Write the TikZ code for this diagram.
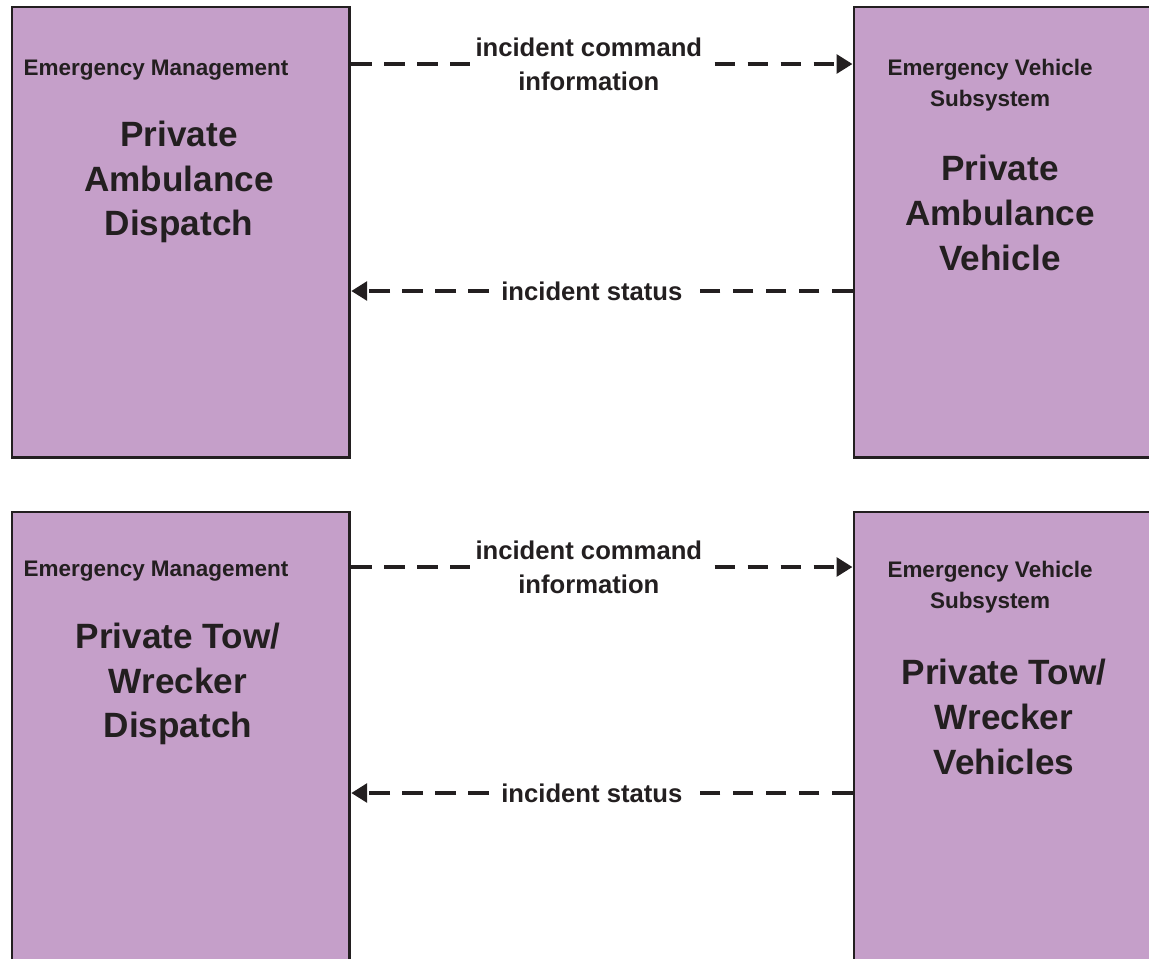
\documentclass[tikz,border=0pt]{standalone}
\usepackage{fontspec}
\setmainfont{Liberation Sans}
\usetikzlibrary{arrows.meta, positioning, calc}
\definecolor{boxfill}{RGB}{197,159,201}
\definecolor{boxline}{RGB}{35,31,32}

\begin{document}
\begin{tikzpicture}[
    x=0.02cm, y=-0.02cm,
    box/.style={rectangle, draw=boxline, line width=1.6pt, fill=boxfill, minimum width=6.76cm, minimum height=9.02cm, anchor=north west, inner sep=0pt},
    farbox/.style={box, minimum width=7cm},
    lowbox/.style={minimum height=9.5cm},
    kind/.style={font=\fontsize{12.8}{18}\selectfont\bfseries, align=center, text=boxline},
    title/.style={font=\fontsize{20}{25.5}\selectfont\bfseries, align=center, text=boxline},
    flowlabel/.style={font=\fontsize{14.6}{19.3}\selectfont\bfseries, align=center, fill=white, inner sep=3pt, text=boxline},
    flow/.style={draw=boxline, line width=2.8pt, dash pattern=on 11.8pt off 7pt, -{Triangle[length=9pt, width=10.5pt]}}
]
    \useasboundingbox (0,0) rectangle (1149,958);
    \clip (0,0) rectangle (1149,958);

    % upper pair
    \node[box] (ambdisp) at (10.5,5.5) {};
    \node[farbox] (ambveh) at (852.5,5.5) {};
    \node[kind] (ambdispkind) at (156,70) {Emergency Management};
    \node[title] (ambdisptitle) at (179,182) {Private\\Ambulance\\Dispatch};
    \node[kind] (ambvehkind) at (990,85) {Emergency Vehicle\\Subsystem};
    \node[title] (ambvehtitle) at (1000,213) {Private\\Ambulance\\Vehicle};

    \coordinate (ambcmd) at (588,64);
    \coordinate (ambstat) at (591,291);
    \draw[flow] (ambdisp.east |- ambcmd) -- (ambveh.west |- ambcmd)
        node[flowlabel, pos=0.474] (ambcmdlabel) {incident command\\information};
    \draw[flow] (ambveh.west |- ambstat) -- (ambdisp.east |- ambstat)
        node[flowlabel, pos=0.52] (ambstatlabel) {incident status};

    % lower pair
    \node[box, lowbox] (towdisp) at (10.5,510.5) {};
    \node[farbox, lowbox] (towveh) at (852.5,510.5) {};
    \node[kind] (towdispkind) at (156,571) {Emergency Management};
    \node[title] (towdisptitle) at (178,684) {Private Tow/\\Wrecker\\Dispatch};
    \node[kind] (towvehkind) at (990,587) {Emergency Vehicle\\Subsystem};
    \node[title] (towvehtitle) at (1004,717) {Private Tow/\\Wrecker\\Vehicles};

    \coordinate (towcmd) at (588,567);
    \coordinate (towstat) at (591,793);
    \draw[flow] (towdisp.east |- towcmd) -- (towveh.west |- towcmd)
        node[flowlabel, pos=0.474] (towcmdlabel) {incident command\\information};
    \draw[flow] (towveh.west |- towstat) -- (towdisp.east |- towstat)
        node[flowlabel, pos=0.52] (towstatlabel) {incident status};
\end{tikzpicture}
\end{document}
